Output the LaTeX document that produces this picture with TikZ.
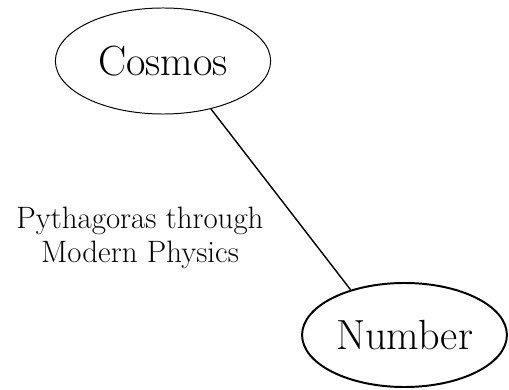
\documentclass[tikz,border=0pt]{standalone}
\usepackage{tikz}
\usetikzlibrary{shapes.geometric}

\begin{document}
\begin{tikzpicture}[x=0.025cm,y=0.025cm,
  topic/.style={ellipse, draw, inner sep=0pt, font=\fontsize{30}{36}\selectfont}]
  \useasboundingbox (0,0) rectangle (509,390);

  \node[topic, line width=0.7pt, minimum width=5.38cm, minimum height=2.65cm] (cosmos) at (163,329) {Cosmos};
  \node[topic, line width=1.4pt, minimum width=5.12cm, minimum height=2.6cm] (number) at (404.5,55) {Number};

  \draw[line width=1.0pt] (cosmos.-45.6) -- (number.140.7);
  \node[align=center, font=\fontsize{22}{24.5}\selectfont] (span) at (140,152) {Pythagoras through\\Modern Physics};
\end{tikzpicture}
\end{document}
